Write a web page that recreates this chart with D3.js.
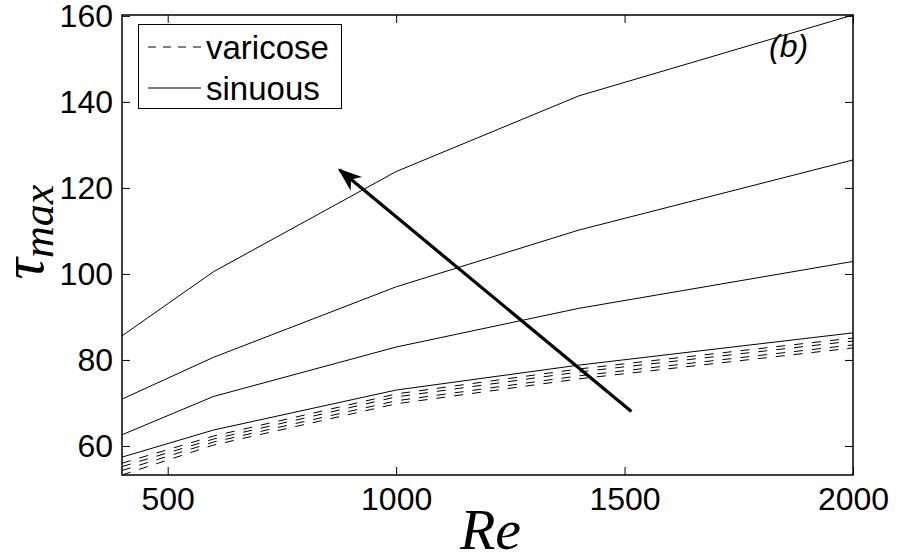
<!DOCTYPE html>
<html><head><meta charset="utf-8">
<script src="https://cdn.jsdelivr.net/npm/d3@7"></script>
<style>html,body{margin:0;padding:0;background:#fff;}</style>
</head><body>
<svg id="chart" width="905" height="558"></svg>
<script>
const reValues = [400, 600, 1000, 1400, 2000];
const sinuous1 = [85.6, 100.5, 123.8, 141.4, 160.2];
const sinuous2 = [70.9, 80.6, 97.0, 110.2, 126.5];
const sinuous3 = [62.6, 71.5, 83.0, 92.0, 102.9];
const sinuous4 = [57.4, 63.7, 73.0, 78.8, 86.3];
const varicose1 = [56.0, 62.3, 72.1, 77.9, 85.1];
const varicose2 = [55.2, 61.6, 71.4, 77.2, 84.4];
const varicose3 = [54.3, 60.9, 70.5, 76.3, 83.5];
const varicose4 = [53.25, 60.2, 69.8, 75.6, 82.8];
const xTicks = [500, 1000, 1500, 2000];
const yTicks = [60, 80, 100, 120, 140, 160];
const arrowRe = [1515, 876];
const arrowTau = [68.0, 124.2];
const legendLabels = ["varicose", "sinuous"];

const sinuous = [sinuous1, sinuous2, sinuous3, sinuous4];
const varicose = [varicose1, varicose2, varicose3, varicose4];

const svg = d3.select("#chart");
const L = 122, R = 853, T = 15, B = 475;
const all = sinuous.concat(varicose).flat();
const x = d3.scaleLinear().domain(d3.extent(reValues)).range([L, R]);
const y = d3.scaleLinear().domain(d3.extent(all)).range([B, T]);

const line = d3.line().x((d, i) => x(reValues[i])).y(d => y(d));

// data
const g = svg.append("g");
varicose.forEach(s => g.append("path").attr("d", line(s)).attr("fill", "none")
  .attr("stroke", "#000").attr("stroke-width", 1).attr("stroke-dasharray", "9,9"));
sinuous.forEach(s => g.append("path").attr("d", line(s)).attr("fill", "none")
  .attr("stroke", "#000").attr("stroke-width", 1));

// axes
const tickLen = 8;
const fontSans = "Liberation Sans";
const fontSerif = "Liberation Serif";
const xAxB = d3.axisBottom(x).tickValues(xTicks).tickSize(-tickLen).tickPadding(12).tickFormat(d3.format("d"));
const xAxT = d3.axisTop(x).tickValues(xTicks).tickSize(-tickLen).tickFormat("");
const yAxL = d3.axisLeft(y).tickValues(yTicks).tickSize(-tickLen).tickPadding(9);
const yAxR = d3.axisRight(y).tickValues(yTicks).tickSize(-tickLen).tickFormat("");
function style(sel){ sel.attr("font-family", fontSans).attr("font-size", 32);
  sel.select(".domain").remove(); sel.selectAll("line").attr("stroke","#000").attr("stroke-width",1);
  sel.selectAll("text").attr("fill","#000").attr("font-family", fontSans); }
svg.append("g").attr("transform", `translate(0,${B})`).call(xAxB).call(style);
svg.append("g").attr("transform", `translate(0,${T})`).call(xAxT).call(style);
svg.append("g").attr("transform", `translate(${L},0)`).call(yAxL).call(style);
svg.append("g").attr("transform", `translate(${R},0)`).call(yAxR).call(style);
svg.append("rect").attr("x", L).attr("y", T).attr("width", R - L).attr("height", B - T)
  .attr("fill", "none").attr("stroke", "#000").attr("stroke-width", 1.5);

// arrow
const defs = svg.append("defs");
defs.append("marker").attr("id", "ah").attr("viewBox", "0 0 24 18").attr("refX", 22).attr("refY", 9)
  .attr("markerWidth", 24).attr("markerHeight", 18).attr("markerUnits", "userSpaceOnUse").attr("orient", "auto")
  .append("path").attr("d", "M0,0 L24,9 L0,18 L7,9 Z").attr("fill", "#000");
svg.append("line").attr("x1", x(arrowRe[0])).attr("y1", y(arrowTau[0]))
  .attr("x2", x(arrowRe[1])).attr("y2", y(arrowTau[1]))
  .attr("stroke", "#000").attr("stroke-width", 3.2).attr("marker-end", "url(#ah)");

// (b)
svg.append("text").attr("x", 769).attr("y", 57).attr("font-family", fontSans).attr("font-style", "italic")
  .attr("font-size", 32).text("(b)");

// legend
const lg = svg.append("g");
lg.append("rect").attr("x", 138.5).attr("y", 24.5).attr("width", 203).attr("height", 84)
  .attr("fill", "#fff").attr("stroke", "#000").attr("stroke-width", 1);
const legY = [47, 88];
legendLabels.forEach((t, i) => {
  lg.append("line").attr("x1", 148).attr("x2", 201).attr("y1", legY[i]).attr("y2", legY[i])
    .attr("stroke", "#000").attr("stroke-width", 1).attr("stroke-dasharray", i === 0 ? "8,7" : null);
  lg.append("text").attr("x", 206).attr("y", legY[i] + 12).attr("font-family", fontSans)
    .attr("font-size", 33).text(t);
});

// axis labels
svg.append("text").attr("x", (L + R) / 2 + 3).attr("y", 549).attr("text-anchor", "middle")
  .attr("font-family", fontSerif).attr("font-style", "italic")
  .attr("font-size", 58).text("Re");
const yl = svg.append("text").attr("transform", "translate(43,232) rotate(-90)").attr("text-anchor", "middle")
  .attr("font-family", fontSerif).attr("font-style", "italic");
yl.append("tspan").attr("font-size", 60).text("τ");
yl.append("tspan").attr("font-size", 44).attr("dy", 10).text("max");
</script>
</body></html>
